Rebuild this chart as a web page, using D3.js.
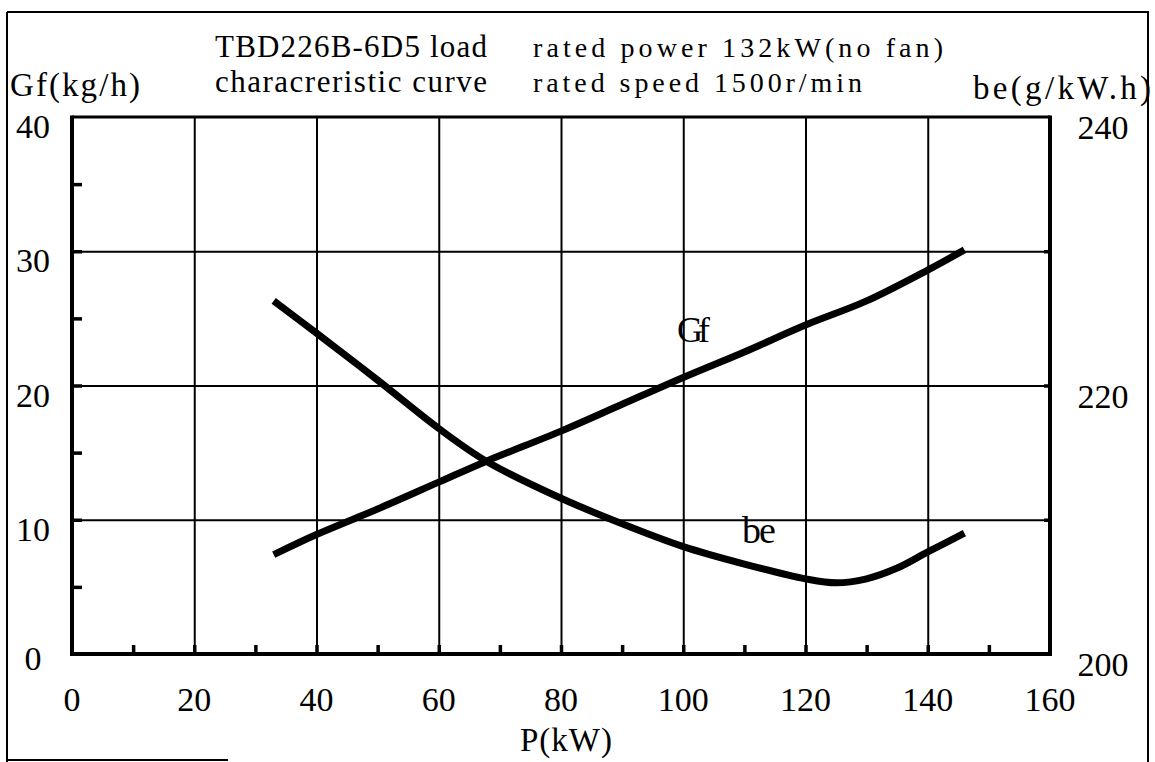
<!DOCTYPE html>
<html>
<head>
<meta charset="utf-8">
<script src="https://cdn.jsdelivr.net/npm/d3@7"></script>
<style>
  body { margin: 0; background: #fff; }
  svg text { font-family: "Liberation Serif", "DejaVu Serif", serif; fill: #000; }
</style>
</head>
<body>
<div id="chart"></div>
<script>
// data
var power   = [33, 40, 50, 60, 68, 80, 90, 100, 110, 120, 130, 140, 146];
var gfValue = [7.4, 8.9, 10.8, 12.8, 14.4, 16.6, 18.6, 20.6, 22.5, 24.5, 26.3, 28.6, 30.1];
var bePower = [33, 40, 50, 60, 68, 80, 90, 100, 110, 120, 125, 130, 135, 140, 146];
var beValue = [226.3, 223.9, 220.4, 216.8, 214.3, 211.6, 209.7, 208.0, 206.7, 205.6, 205.3, 205.6, 206.4, 207.6, 209.0];

var xTicks  = [0, 20, 40, 60, 80, 100, 120, 140, 160];
var xMinor  = [10, 30, 50, 70, 90, 110, 130, 150];
var gfTicks = [0, 10, 20, 30, 40];
var gfMinor = [5, 15, 25, 35];
var beTicks = [200, 220, 240];

var W = 1155, H = 762;
var plot = {left: 72, right: 1050, top: 117, bottom: 654};

var x = d3.scaleLinear().domain([0, 160]).range([plot.left, plot.right]);
var yGf = d3.scaleLinear().domain([0, 40]).range([plot.bottom, plot.top]);
var yBe = d3.scaleLinear().domain([200, 240]).range([plot.bottom, plot.top]);

var svg = d3.select("#chart").append("svg")
  .attr("width", W).attr("height", H);

// outer frame of the scanned sheet
var frame = svg.append("g").attr("stroke", "#000").attr("stroke-width", 2);
frame.append("line").attr("x1", 7).attr("y1", 12).attr("x2", 1149).attr("y2", 12);
frame.append("line").attr("x1", 7).attr("y1", 12).attr("x2", 7).attr("y2", 762);
frame.append("line").attr("x1", 1148).attr("y1", 12).attr("x2", 1148).attr("y2", 762);
frame.append("line").attr("x1", 7).attr("y1", 760).attr("x2", 228).attr("y2", 760);

// grid
var grid = svg.append("g");
grid.append("g")
  .attr("transform", "translate(0," + plot.bottom + ")")
  .call(d3.axisBottom(x).tickValues(xTicks.slice(1, -1)).tickSize(-(plot.bottom - plot.top)).tickFormat(""))
  .call(function(g) { g.select(".domain").remove(); })
  .selectAll("line").attr("stroke", "#000").attr("stroke-width", 2);
grid.append("g")
  .attr("transform", "translate(" + plot.left + ",0)")
  .call(d3.axisLeft(yGf).tickValues(gfTicks.slice(1, -1)).tickSize(-(plot.right - plot.left)).tickFormat(""))
  .call(function(g) { g.select(".domain").remove(); })
  .selectAll("line").attr("stroke", "#000").attr("stroke-width", 2);

// short ticks on the axes
svg.append("g")
  .attr("transform", "translate(0," + plot.bottom + ")")
  .call(d3.axisBottom(x).tickValues(xMinor.concat(xTicks.slice(1, -1))).tickSize(-9).tickFormat(""))
  .call(function(g) { g.select(".domain").remove(); })
  .selectAll("line").attr("stroke", "#000").attr("stroke-width", 3.5);
svg.append("g")
  .attr("transform", "translate(" + plot.left + ",0)")
  .call(d3.axisLeft(yGf).tickValues(gfMinor.concat(gfTicks.slice(1, -1))).tickSize(-10).tickFormat(""))
  .call(function(g) { g.select(".domain").remove(); })
  .selectAll("line").attr("stroke", "#000").attr("stroke-width", 3.5);
svg.append("g")
  .attr("transform", "translate(" + plot.right + ",0)")
  .call(d3.axisRight(yBe).tickValues([210, 220, 230]).tickSize(-6).tickFormat(""))
  .call(function(g) { g.select(".domain").remove(); })
  .selectAll("line").attr("stroke", "#000").attr("stroke-width", 3.5);

// axis box
var box = svg.append("g").attr("stroke", "#000").attr("fill", "none");
box.append("line").attr("x1", plot.left).attr("y1", plot.top).attr("x2", plot.right).attr("y2", plot.top).attr("stroke-width", 3);
box.append("line").attr("x1", plot.left).attr("y1", plot.top - 1.5).attr("x2", plot.left).attr("y2", plot.bottom + 2).attr("stroke-width", 4);
box.append("line").attr("x1", plot.right).attr("y1", plot.top - 1.5).attr("x2", plot.right).attr("y2", plot.bottom + 2).attr("stroke-width", 4);
box.append("line").attr("x1", plot.left - 2).attr("y1", plot.bottom).attr("x2", plot.right + 2).attr("y2", plot.bottom).attr("stroke-width", 4);

// tick labels
svg.append("g").selectAll("text").data(xTicks).join("text")
  .attr("x", function(d) { return x(d); })
  .attr("y", 711)
  .attr("text-anchor", "middle")
  .style("font-size", "34px")
  .text(function(d) { return d; });
svg.append("g").selectAll("text").data(gfTicks).join("text")
  .attr("x", 33)
  .attr("y", function(d) { return yGf(d) + (d === 0 ? 16 : 21); })
  .attr("text-anchor", "middle")
  .style("font-size", "34px")
  .text(function(d) { return d; });
svg.append("g").selectAll("text").data(beTicks).join("text")
  .attr("x", 1103)
  .attr("y", function(d) { return yBe(d) + 22; })
  .attr("text-anchor", "middle")
  .style("font-size", "34px")
  .text(function(d) { return d; });

// titles
function label(t, px, py, size, len) {
  var el = svg.append("text").attr("x", px).attr("y", py).style("font-size", size + "px").text(t);
  if (len) el.attr("textLength", len).attr("lengthAdjust", "spacing");
  return el;
}
label("TBD226B-6D5 load", 215, 57, 31, 272);
label("characreristic curve", 215, 92, 31, 272);
label("rated power 132kW(no fan)", 533, 57, 28, 410);
label("rated speed 1500r/min", 533, 92, 28, 329);
label("Gf(kg/h)", 10, 96, 33, 130);
label("be(g/kW.h)", 973, 99, 33, 178);
label("P(kW)", 520, 751, 33, 92);

// curves
var gfLine = d3.line()
  .x(function(d, i) { return x(power[i]); })
  .y(function(d) { return yGf(d); })
  .curve(d3.curveCatmullRom);
var beLine = d3.line()
  .x(function(d, i) { return x(bePower[i]); })
  .y(function(d) { return yBe(d); })
  .curve(d3.curveCatmullRom);

svg.append("path").datum(gfValue).attr("d", gfLine)
  .attr("fill", "none").attr("stroke", "#000").attr("stroke-width", 7);
svg.append("path").datum(beValue).attr("d", beLine)
  .attr("fill", "none").attr("stroke", "#000").attr("stroke-width", 7);

// curve names
label("Gf", 677, 342, 36).attr("letter-spacing", -5);
label("be", 742, 543, 38).attr("letter-spacing", -2);
</script>
</body>
</html>
